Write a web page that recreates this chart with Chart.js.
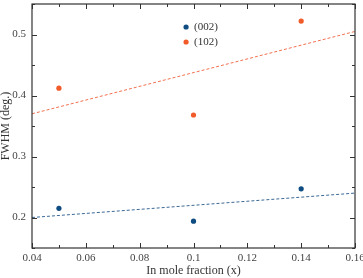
<!DOCTYPE html>
<html>
<head>
  <meta charset="UTF-8">
  <title>FWHM vs In mole fraction</title>
  <style>
    body { margin: 0; padding: 0; background: #fff; }
    #wrap { width: 363px; height: 278px; }
  </style>
</head>
<body>
  <div id="wrap"><canvas id="fwhm"></canvas></div>

  <script src="https://cdn.jsdelivr.net/npm/chart.js"></script>
  <script>
    // data
    const xValues = [0.05, 0.10, 0.14];
    const fwhm002 = [0.215, 0.194, 0.247];
    const fwhm102 = [0.412, 0.368, 0.522];
    // linear fits (end points at x = 0.04 and 0.16)
    const fitX = [0.04, 0.16];
    const fit002 = [0.200, 0.240];
    const fit102 = [0.370, 0.505];

    const seriesLabels = ['(002)', '(102)'];
    const xTicks = [0.04, 0.06, 0.08, 0.10, 0.12, 0.14, 0.16];
    const xMinor = [0.05, 0.07, 0.09, 0.11, 0.13, 0.15];
    const yTicks = [0.2, 0.3, 0.4, 0.5];
    const yMinor = [0.15, 0.25, 0.35, 0.45, 0.55];

    const BLUE = '#0f4c81', ORANGE = '#f15a29';
    const FONT = '"Liberation Serif", "Times New Roman", serif';

    const pts = (xs, ys) => xs.map((x, i) => ({x: x, y: ys[i]}));

    // frame, inward ticks on all four sides, and the inset legend
    const framePlugin = {
      id: 'frame',
      afterDraw(chart) {
        const {ctx, chartArea: a, scales} = chart;
        const xs = scales.x, ys = scales.y;
        ctx.save();
        ctx.strokeStyle = '#333';
        ctx.lineWidth = 1.2;
        ctx.strokeRect(a.left, a.top, a.right - a.left, a.bottom - a.top);
        ctx.lineWidth = 1;
        ctx.beginPath();
        const tx = (v, len) => {
          const p = Math.round(xs.getPixelForValue(v)) + 0.5;
          ctx.moveTo(p, a.bottom); ctx.lineTo(p, a.bottom - len);
          ctx.moveTo(p, a.top); ctx.lineTo(p, a.top + len);
        };
        const ty = (v, len) => {
          const p = Math.round(ys.getPixelForValue(v)) + 0.5;
          ctx.moveTo(a.left, p); ctx.lineTo(a.left + len, p);
          ctx.moveTo(a.right, p); ctx.lineTo(a.right - len, p);
        };
        xTicks.forEach(v => tx(v, 5));
        xMinor.forEach(v => tx(v, 3));
        yTicks.forEach(v => ty(v, 5));
        yMinor.forEach(v => ty(v, 3));
        ctx.stroke();

        // legend
        const lx = a.left + (a.right - a.left) * 0.477;
        let ly = a.top + 23;
        ctx.font = '11px ' + FONT;
        ctx.textBaseline = 'middle';
        [BLUE, ORANGE].forEach((c, i) => {
          ctx.beginPath();
          ctx.fillStyle = c;
          ctx.arc(lx, ly, 2.6, 0, Math.PI * 2);
          ctx.fill();
          ctx.fillStyle = '#333';
          ctx.fillText(seriesLabels[i], lx + 8, ly + 0.5);
          ly += 15;
        });
        ctx.restore();
      }
    };

    new Chart(document.getElementById('fwhm'), {
      type: 'scatter',
      data: {
        datasets: [
          { label: seriesLabels[0], data: pts(xValues, fwhm002),
            backgroundColor: BLUE, borderColor: BLUE, pointRadius: 2.6, pointBorderWidth: 0 },
          { label: seriesLabels[1], data: pts(xValues, fwhm102),
            backgroundColor: ORANGE, borderColor: ORANGE, pointRadius: 2.6, pointBorderWidth: 0 },
          { label: 'fit002', data: pts(fitX, fit002), showLine: true, pointRadius: 0,
            borderColor: '#3a6896', borderWidth: 1, borderDash: [3, 2], fill: false },
          { label: 'fit102', data: pts(fitX, fit102), showLine: true, pointRadius: 0,
            borderColor: '#f2704f', borderWidth: 1, borderDash: [3, 2], fill: false }
        ]
      },
      options: {
        responsive: true,
        maintainAspectRatio: false,
        animation: false,
        layout: { padding: { top: 4, right: 8, left: 0, bottom: 0 } },
        plugins: { legend: { display: false }, tooltip: { enabled: false } },
        scales: {
          x: {
            type: 'linear', min: 0.04, max: 0.16,
            grid: { display: false, drawTicks: false },
            border: { display: false },
            afterBuildTicks: s => { s.ticks = xTicks.map(v => ({value: v})); },
            afterFit: s => { s.height = 30; s.paddingLeft = 0; s.paddingRight = 0; },
            ticks: {
              padding: 4, color: '#444', maxRotation: 0, autoSkip: false,
              font: { family: FONT, size: 11 },
              callback: v => String(Number(v.toFixed(2)))
            },
            title: { display: true, text: 'In mole fraction (x)', color: '#333',
              font: { family: FONT, size: 12 }, padding: { top: 0, bottom: 0 } }
          },
          y: {
            type: 'linear', min: 0.15, max: 0.55,
            grid: { display: false, drawTicks: false },
            border: { display: false },
            afterBuildTicks: s => { s.ticks = yTicks.map(v => ({value: v})); },
            afterFit: s => { s.width = 32; s.paddingTop = 0; s.paddingBottom = 0; },
            ticks: {
              padding: 6, color: '#444',
              font: { family: FONT, size: 11 },
              callback: v => String(Number(v.toFixed(2)))
            },
            title: { display: true, text: 'FWHM (deg.)', color: '#333',
              font: { family: FONT, size: 12, lineHeight: 1 }, padding: { top: 0, bottom: 0 } }
          }
        }
      },
      plugins: [framePlugin]
    });
  </script>
</body>
</html>
